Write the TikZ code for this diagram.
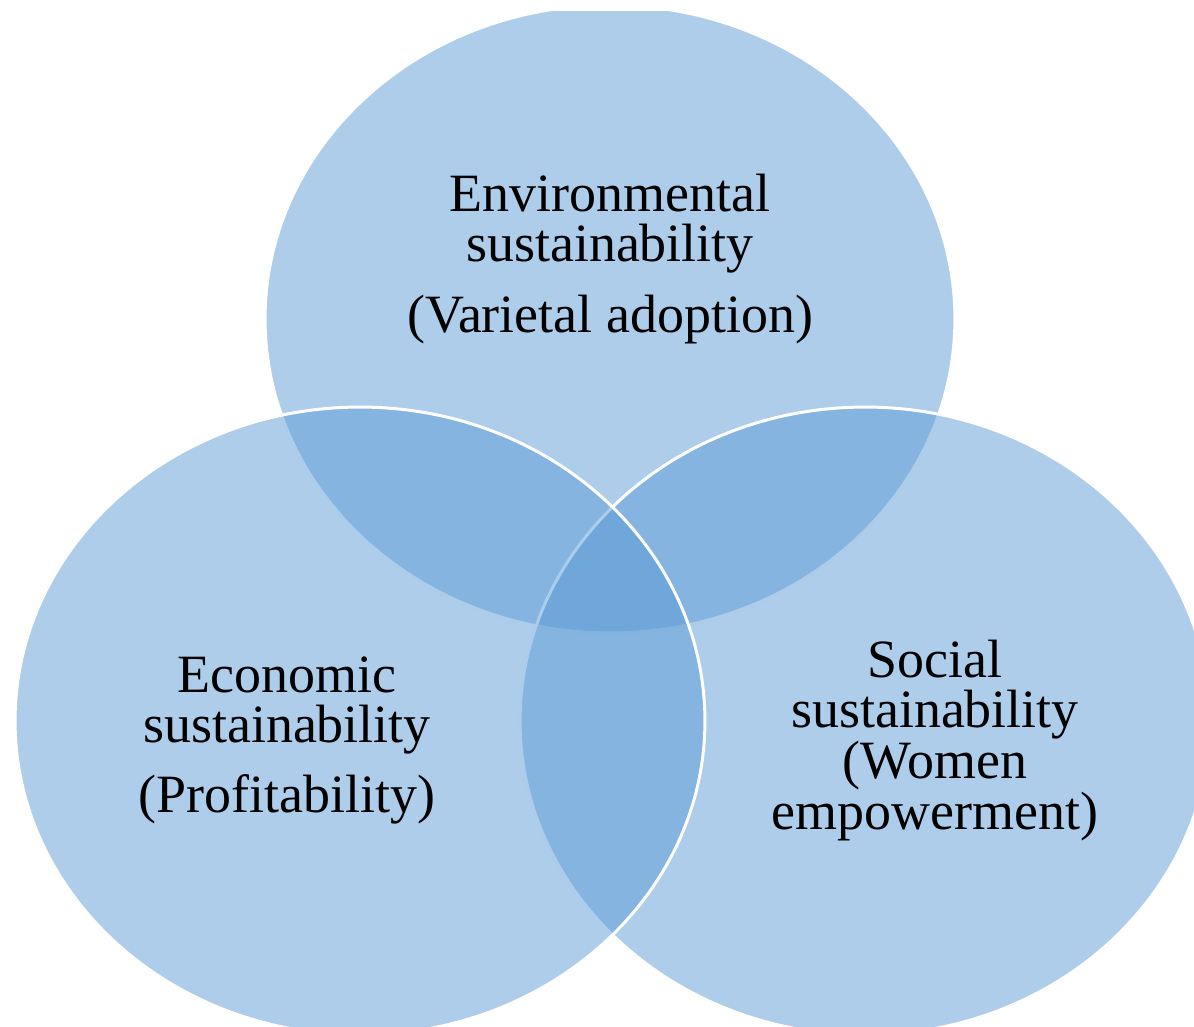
\documentclass[tikz,border=0pt]{standalone}
\usepackage{fontspec}
\setmainfont{Liberation Serif}
\definecolor{vennblue}{HTML}{5B9BD5}
\begin{document}
\begin{tikzpicture}[x=0.02cm,y=-0.02cm,
  venn/.style={fill=vennblue,fill opacity=0.5,draw=white,draw opacity=1,line width=1.7pt},
  lbl/.style={anchor=base,inner sep=0pt,font=\fontsize{30.7}{29}\selectfont,text=black}]
\useasboundingbox (0,0) rectangle (1194,1027);
\begin{scope}
\clip (0,12) rectangle (1194,1027);
\path[venn] (610,319) ellipse [x radius=6.9cm, y radius=6.28cm];
\path[venn] (865,721) ellipse [x radius=6.9cm, y radius=6.28cm];
\path[venn] (360,721) ellipse [x radius=6.9cm, y radius=6.28cm];
\end{scope}
\node[lbl] (env1) at (610,212) {Environmental};
\node[lbl] (env2) at (610,262) {sustainability};
\node[lbl] (env3) at (610,333) {(Varietal adoption)};
\node[lbl] (eco1) at (287,692) {Economic};
\node[lbl] (eco2) at (287,742) {sustainability};
\node[lbl] (eco3) at (287,812) {(Profitability)};
\node[lbl] (soc1) at (935,677) {Social};
\node[lbl] (soc2) at (935,727) {sustainability};
\node[lbl] (soc3) at (935,778) {(Women};
\node[lbl] (soc4) at (935,829) {empowerment)};
\end{tikzpicture}
\end{document}
